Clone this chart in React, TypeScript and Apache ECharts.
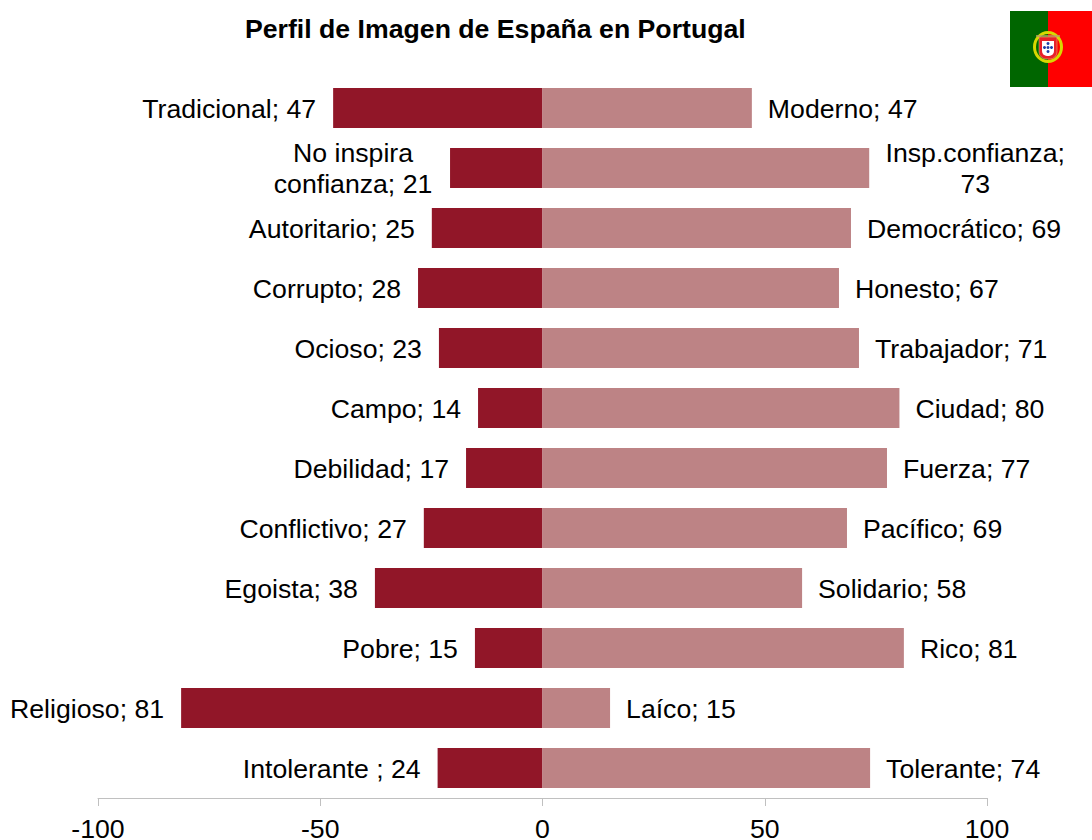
import React, { useEffect, useRef } from "react";
import * as echarts from "echarts";

const leftNames = ["Tradicional", "No inspira\nconfianza", "Autoritario", "Corrupto", "Ocioso", "Campo", "Debilidad", "Conflictivo", "Egoista", "Pobre", "Religioso", "Intolerante "];
const rightNames = ["Moderno", "Insp.confianza", "Democrático", "Honesto", "Trabajador", "Ciudad", "Fuerza", "Pacífico", "Solidario", "Rico", "Laíco", "Tolerante"];
const leftLabels = [47, 21, 25, 28, 23, 14, 17, 27, 38, 15, 81, 24];
const rightLabels = [47, 73, 69, 67, 71, 80, 77, 69, 58, 81, 15, 74];
const leftValues = [-47.1, -20.8, -24.9, -28, -23.3, -14.5, -17.2, -26.7, -37.7, -15.2, -81.3, -23.6];
const rightValues = [47.1, 73.5, 69.4, 66.7, 71.2, 80.3, 77.5, 68.5, 58.4, 81.3, 15.2, 73.7];

const FONT = "Liberation Sans";
const FS = 26.67;

export default function App() {
  const ref = useRef<HTMLDivElement>(null);
  useEffect(() => {
    document.body.style.margin = "0";
    const chart = echarts.init(ref.current!, undefined, { renderer: "svg" });
    chart.setOption({
      animation: false,
      backgroundColor: "#ffffff",
      title: {
        text: "Perfil de Imagen de España en Portugal",
        left: 245,
        top: 15,
        padding: 0,
        textStyle: { fontFamily: FONT, fontSize: FS, fontWeight: "bold", color: "#000000" },
      },
      grid: { left: 98, right: 105, top: 78, bottom: 42, outerBoundsMode: "none" },
      xAxis: {
        type: "value",
        min: -100,
        max: 100,
        interval: 50,
        splitLine: { show: false },
        axisLine: { show: true, lineStyle: { color: "#c0c0c0", width: 1 } },
        axisTick: { show: true, length: 8, lineStyle: { color: "#c0c0c0", width: 1 } },
        axisLabel: { fontFamily: FONT, fontSize: FS, lineHeight: 20, color: "#000000", margin: 21, showMinLabel: true, showMaxLabel: true },
      },
      yAxis: {
        type: "category",
        inverse: true,
        data: rightNames,
        axisLine: { show: false },
        axisTick: { show: false },
        axisLabel: { show: false },
        splitLine: { show: false },
      },
      series: [
        {
          type: "bar",
          stack: "p",
          barWidth: 40,
          itemStyle: { color: "#911628" },
          data: leftValues.map((v, i) => {
            const multi = leftNames[i].includes("\n");
            return {
              value: v,
              label: multi ? { align: "center", offset: [-80, 0] } : { offset: [0, 1] },
            };
          }),
          label: {
            show: true,
            position: "left",
            distance: 17,
            fontFamily: FONT,
            fontSize: FS,
            lineHeight: 31,
            color: "#000000",
            formatter: (p: any) => `${leftNames[p.dataIndex]}; ${leftLabels[p.dataIndex]}`,
          },
        },
        {
          type: "bar",
          stack: "p",
          barWidth: 40,
          itemStyle: { color: "#BD8385" },
          data: rightValues.map((v, i) => ({
            value: v,
            label: i === 1 ? { align: "center", offset: [90, 0] } : { offset: [0, 1] },
          })),
          label: {
            show: true,
            position: "right",
            distance: 16,
            fontFamily: FONT,
            fontSize: FS,
            lineHeight: 31,
            color: "#000000",
            formatter: (p: any) =>
              p.dataIndex === 1
                ? `${rightNames[1]};\n${rightLabels[1]}`
                : `${rightNames[p.dataIndex]}; ${rightLabels[p.dataIndex]}`,
          },
        },
      ],
      graphic: [
        { type: "rect", shape: { x: 1010, y: 11, width: 38, height: 76 }, style: { fill: "#006600" } },
        { type: "rect", shape: { x: 1048, y: 11, width: 44, height: 76 }, style: { fill: "#ff0000" } },
        { type: "ellipse", shape: { cx: 1048, cy: 47, rx: 13.5, ry: 14.5 }, style: { fill: "none", stroke: "#d8d800", lineWidth: 3 } },
        { type: "rect", shape: { x: 1039, y: 37, width: 18, height: 22, r: [1, 1, 7, 7] }, style: { fill: "#e8202a", stroke: "#e8d070", lineWidth: 0.5 } },
        { type: "rect", shape: { x: 1042, y: 41, width: 12, height: 15, r: [0, 0, 5, 5] }, style: { fill: "#ffffff" } },
        { type: "circle", shape: { cx: 1048, cy: 43.5, r: 1.5 }, style: { fill: "#1f3fa8" } },
        { type: "circle", shape: { cx: 1044.5, cy: 47.5, r: 1.5 }, style: { fill: "#1f3fa8" } },
        { type: "circle", shape: { cx: 1048, cy: 47.5, r: 1.5 }, style: { fill: "#1f3fa8" } },
        { type: "circle", shape: { cx: 1051.5, cy: 47.5, r: 1.5 }, style: { fill: "#1f3fa8" } },
        { type: "circle", shape: { cx: 1048, cy: 51.5, r: 1.5 }, style: { fill: "#1f3fa8" } },
        { type: "line", shape: { x1: 1036, y1: 36, x2: 1060, y2: 36 }, style: { stroke: "#b8a060", lineWidth: 1.5 } },
      ],
    });
    return () => chart.dispose();
  }, []);
  return <div ref={ref} style={{ width: 1092, height: 840 }} />;
}
